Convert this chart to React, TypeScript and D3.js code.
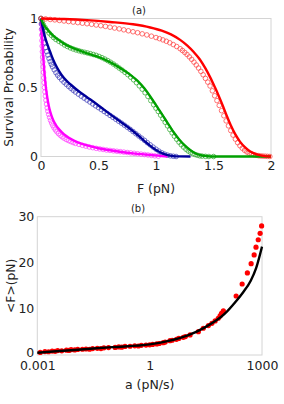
import { useEffect, useRef } from "react";
import * as d3 from "d3";

type Pt = [number, number];

// ---- panel (a): survival probability vs F ----
const redFit: Pt[] = [
  [0, 1], [0.2, 0.996], [0.4, 0.988], [0.6, 0.975], [0.8, 0.958], [0.95, 0.935],
  [1.05, 0.912], [1.13, 0.885], [1.21, 0.845], [1.27, 0.805], [1.33, 0.755],
  [1.38, 0.705], [1.43, 0.638], [1.47, 0.575], [1.51, 0.505], [1.54, 0.45],
  [1.58, 0.37], [1.615, 0.295], [1.65, 0.226], [1.69, 0.16], [1.73, 0.108],
  [1.775, 0.066], [1.82, 0.036], [1.875, 0.016], [1.93, 0.005], [2.0, 0],
];
const redData: Pt[] = [
  [0, 1], [0.04, 0.997], [0.08, 0.993], [0.12, 0.99], [0.16, 0.986], [0.2, 0.982],
  [0.24, 0.978], [0.28, 0.974], [0.32, 0.97], [0.36, 0.966], [0.4, 0.962],
  [0.44, 0.958], [0.48, 0.953], [0.52, 0.948], [0.56, 0.943], [0.6, 0.937],
  [0.64, 0.931], [0.68, 0.925], [0.72, 0.918], [0.76, 0.911], [0.8, 0.904],
  [0.84, 0.897], [0.88, 0.889], [0.92, 0.881], [0.96, 0.872], [1.0, 0.862],
  [1.03, 0.854], [1.06, 0.845], [1.09, 0.835], [1.12, 0.824], [1.15, 0.811],
  [1.18, 0.797], [1.21, 0.781], [1.23, 0.768], [1.25, 0.754], [1.27, 0.739],
  [1.29, 0.722], [1.31, 0.704], [1.33, 0.684], [1.35, 0.663], [1.37, 0.641],
  [1.39, 0.617], [1.41, 0.592], [1.43, 0.566], [1.45, 0.539], [1.47, 0.511],
  [1.49, 0.476], [1.51, 0.44], [1.53, 0.405], [1.55, 0.37], [1.57, 0.332],
  [1.59, 0.295], [1.61, 0.258], [1.63, 0.222], [1.65, 0.188], [1.67, 0.155],
  [1.69, 0.126], [1.71, 0.1], [1.73, 0.078], [1.75, 0.06], [1.77, 0.045],
  [1.79, 0.033], [1.81, 0.024], [1.83, 0.018], [1.85, 0.013], [1.87, 0.009],
  [1.89, 0.006], [1.91, 0.004], [1.93, 0.003], [1.95, 0.002], [1.97, 0.001], [1.99, 0],
];

const greenFit: Pt[] = [
  [0, 1], [0.02, 0.96], [0.05, 0.925], [0.1, 0.88], [0.15, 0.847], [0.2, 0.818],
  [0.26, 0.792], [0.32, 0.772], [0.4, 0.748], [0.48, 0.727], [0.55, 0.704],
  [0.62, 0.675], [0.7, 0.635], [0.78, 0.59], [0.84, 0.548], [0.9, 0.492],
  [0.95, 0.435], [1.0, 0.372], [1.04, 0.322], [1.08, 0.27], [1.12, 0.218],
  [1.16, 0.168], [1.2, 0.125], [1.25, 0.08], [1.3, 0.045], [1.35, 0.02],
  [1.4, 0.007], [1.45, 0.002], [1.5, 0], [2.0, 0],
];
const greenData: Pt[] = [
  [0, 1], [0.01, 0.975], [0.02, 0.955], [0.035, 0.935], [0.05, 0.915], [0.07, 0.895],
  [0.09, 0.878], [0.11, 0.862], [0.13, 0.848], [0.155, 0.835], [0.18, 0.822],
  [0.205, 0.808], [0.23, 0.797], [0.255, 0.787], [0.28, 0.779], [0.305, 0.772],
  [0.33, 0.766], [0.355, 0.76], [0.38, 0.755], [0.405, 0.75], [0.43, 0.745],
  [0.455, 0.739], [0.48, 0.733], [0.505, 0.725], [0.53, 0.716], [0.555, 0.706],
  [0.58, 0.695], [0.605, 0.683], [0.63, 0.67], [0.655, 0.656], [0.68, 0.641],
  [0.705, 0.626], [0.73, 0.61], [0.755, 0.593], [0.78, 0.575], [0.805, 0.556],
  [0.83, 0.535], [0.855, 0.512], [0.88, 0.488], [0.905, 0.462], [0.93, 0.435],
  [0.955, 0.405], [0.98, 0.375], [1.0, 0.35], [1.02, 0.326], [1.04, 0.3],
  [1.06, 0.274], [1.08, 0.248], [1.1, 0.222], [1.12, 0.196], [1.14, 0.171],
  [1.16, 0.147], [1.18, 0.125], [1.2, 0.104], [1.22, 0.085], [1.24, 0.068],
  [1.26, 0.053], [1.28, 0.04], [1.3, 0.03], [1.32, 0.021], [1.34, 0.014],
  [1.36, 0.009], [1.38, 0.005], [1.4, 0.003], [1.43, 0.001], [1.46, 0], [1.5, 0],
];

const blueFit: Pt[] = [
  [0, 1], [0.01, 0.955], [0.02, 0.915], [0.035, 0.865], [0.05, 0.825], [0.07, 0.78],
  [0.09, 0.735], [0.12, 0.675], [0.16, 0.615], [0.2, 0.568], [0.26, 0.52],
  [0.32, 0.478], [0.4, 0.43], [0.48, 0.382], [0.55, 0.338], [0.6, 0.307],
  [0.7, 0.247], [0.78, 0.197], [0.84, 0.156], [0.9, 0.112], [0.95, 0.077],
  [1.0, 0.047], [1.05, 0.024], [1.1, 0.01], [1.15, 0.003], [1.2, 0.001], [1.3, 0],
];
const blueData: Pt[] = [
  [0, 1], [0.005, 0.96], [0.01, 0.925], [0.015, 0.89], [0.02, 0.86], [0.03, 0.825],
  [0.04, 0.79], [0.05, 0.76], [0.06, 0.735], [0.07, 0.71], [0.08, 0.688],
  [0.09, 0.668], [0.1, 0.65], [0.115, 0.628], [0.13, 0.607], [0.145, 0.589],
  [0.16, 0.573], [0.18, 0.555], [0.2, 0.538], [0.22, 0.523], [0.24, 0.508],
  [0.26, 0.494], [0.28, 0.48], [0.3, 0.467], [0.325, 0.452], [0.35, 0.437],
  [0.375, 0.423], [0.4, 0.409], [0.425, 0.395], [0.45, 0.381], [0.475, 0.367],
  [0.5, 0.354], [0.525, 0.34], [0.55, 0.326], [0.575, 0.312], [0.6, 0.298],
  [0.625, 0.284], [0.65, 0.27], [0.675, 0.256], [0.7, 0.242], [0.725, 0.227],
  [0.75, 0.212], [0.775, 0.197], [0.8, 0.181], [0.825, 0.165], [0.85, 0.149],
  [0.875, 0.133], [0.9, 0.117], [0.925, 0.1], [0.95, 0.084], [0.975, 0.068],
  [1.0, 0.053], [1.025, 0.039], [1.05, 0.027], [1.075, 0.017], [1.1, 0.01],
  [1.125, 0.005], [1.15, 0.002], [1.175, 0],
];

const magentaFit: Pt[] = [
  [0, 1], [0.004, 0.94], [0.008, 0.875], [0.012, 0.815], [0.017, 0.75], [0.023, 0.68],
  [0.03, 0.605], [0.038, 0.535], [0.046, 0.477], [0.056, 0.42], [0.067, 0.37],
  [0.08, 0.325], [0.095, 0.287], [0.11, 0.257], [0.13, 0.228], [0.15, 0.205],
  [0.18, 0.177], [0.22, 0.148], [0.27, 0.122], [0.32, 0.103], [0.4, 0.08],
  [0.5, 0.06], [0.6, 0.045], [0.7, 0.033], [0.8, 0.023], [0.9, 0.015],
  [1.0, 0.008], [1.05, 0.004], [1.1, 0],
];
const magentaData: Pt[] = [
  [0, 1], [0.002, 0.96], [0.004, 0.92], [0.006, 0.88], [0.008, 0.84], [0.01, 0.8],
  [0.012, 0.76], [0.014, 0.72], [0.016, 0.685], [0.018, 0.65], [0.021, 0.61],
  [0.024, 0.57], [0.027, 0.535], [0.03, 0.5], [0.034, 0.468], [0.038, 0.438],
  [0.043, 0.408], [0.048, 0.38], [0.054, 0.352], [0.06, 0.328], [0.067, 0.305],
  [0.075, 0.283], [0.083, 0.262], [0.092, 0.243], [0.102, 0.225], [0.113, 0.208],
  [0.125, 0.193], [0.138, 0.179], [0.152, 0.166], [0.167, 0.154], [0.183, 0.143],
  [0.2, 0.133], [0.22, 0.123], [0.24, 0.115], [0.26, 0.108], [0.28, 0.101],
  [0.3, 0.095], [0.33, 0.088], [0.36, 0.081], [0.39, 0.075], [0.42, 0.069],
  [0.45, 0.064], [0.48, 0.059], [0.51, 0.055], [0.54, 0.051], [0.57, 0.047],
  [0.6, 0.044], [0.63, 0.041], [0.66, 0.038], [0.69, 0.035], [0.72, 0.032],
  [0.75, 0.029], [0.78, 0.026], [0.81, 0.023], [0.84, 0.02], [0.87, 0.017],
  [0.9, 0.014], [0.93, 0.011], [0.96, 0.008], [0.99, 0.005], [1.02, 0.002],
];

const ticksF = [0, 0.5, 1, 1.5, 2];
const ticksS = [0, 0.5, 1];

// ---- panel (b): <F> vs loading rate a ----
const fitA = [0.001, 0.01, 0.1, 1, 3, 10, 30, 100, 200, 300, 500, 700, 1000];
const fitF = [0.5, 1.1, 1.7, 2.3, 3.0, 4.2, 6.0, 8.9, 11.6, 13.4, 16.1, 18.9, 23.5];

const dotA = [
  0.0012, 0.0016, 0.002, 0.0025, 0.003, 0.0035, 0.0045, 0.006, 0.007, 0.008,
  0.01, 0.012, 0.016, 0.02, 0.025, 0.03, 0.04, 0.05, 0.06, 0.08,
  0.12, 0.15, 0.18, 0.22, 0.3, 0.4, 0.5, 0.6, 0.8, 1.0,
  1.2, 1.55, 1.8, 2.3, 2.6, 3.5, 4, 5.2, 6, 7.9,
  9, 12, 20, 27, 37, 46, 56, 68, 76, 83,
  93, 204, 295, 407, 513, 617, 692, 794, 891, 977,
];
const dotF = [
  0.55, 0.75, 0.7, 0.85, 0.8, 0.95, 0.9, 1.05, 1.0, 1.15,
  1.1, 1.2, 1.25, 1.3, 1.25, 1.4, 1.45, 1.4, 1.55, 1.6,
  1.65, 1.75, 1.7, 1.85, 1.9, 2.0, 1.95, 2.1, 2.15, 2.2,
  2.3, 2.4, 2.5, 2.68, 2.8, 3.1, 3.2, 3.4, 3.6, 3.84,
  4.0, 4.35, 5.07, 5.8, 6.38, 6.88, 7.39, 7.97, 8.48, 9.06,
  9.6, 12.8, 15.4, 17.8, 19.8, 21.7, 23.4, 25.0, 26.4, 28.0,
];
const ticksA = [0.001, 1, 1000];
const ticksMeanF = [0, 10, 20, 30];

const FONT = "'DejaVu Sans', Verdana, sans-serif";

export default function App() {
  const svgRef = useRef<SVGSVGElement | null>(null);

  useEffect(() => {
    if (!svgRef.current) return;
    const svg = d3.select(svgRef.current);
    svg.selectAll("*").remove();

    // ---------- (a) ----------
    const xA = d3.scaleLinear().domain([0, 2]).range([41, 271]);
    const yA = d3.scaleLinear().domain([0, 1]).range([156.5, 18.5]);

    const gA = svg.append("g");
    gA.append("rect")
      .attr("x", xA(0)).attr("y", yA(1))
      .attr("width", xA(2) - xA(0)).attr("height", yA(0) - yA(1))
      .attr("fill", "none").attr("stroke", "#d4d4d4").attr("stroke-width", 1);

    const series = [
      { data: magentaData, fit: magentaFit, line: "#ff00ff", mark: "#ff44ff" },
      { data: blueData, fit: blueFit, line: "#000099", mark: "#4444bb" },
      { data: greenData, fit: greenFit, line: "#00a000", mark: "#33aa33" },
      { data: redData, fit: redFit, line: "#ff0000", mark: "#ff4444" },
    ];

    // hollow markers (measured data)
    series.forEach((s) => {
      gA.append("g")
        .selectAll("circle")
        .data(s.data)
        .enter()
        .append("circle")
        .attr("cx", (d) => xA(d[0]))
        .attr("cy", (d) => yA(d[1]))
        .attr("r", 2.3)
        .attr("fill", "none")
        .attr("stroke", s.mark)
        .attr("stroke-opacity", 0.75)
        .attr("stroke-width", 1);
    });

    const lineA = d3.line<Pt>()
      .x((d) => xA(d[0]))
      .y((d) => yA(d[1]))
      .curve(d3.curveMonotoneX);

    series.forEach((s) => {
      gA.append("path")
        .datum(s.fit)
        .attr("fill", "none")
        .attr("stroke", s.line)
        .attr("stroke-width", 2.4)
        .attr("d", lineA);
    });

    const axA = gA.append("g").attr("transform", `translate(0,${yA(0)})`)
      .call(d3.axisBottom(xA).tickValues(ticksF).tickSize(0).tickPadding(5).tickFormat((d) => String(d)));
    const ayA = gA.append("g").attr("transform", `translate(${xA(0)},0)`)
      .call(d3.axisLeft(yA).tickValues(ticksS).tickSize(0).tickPadding(3).tickFormat((d) => String(d)));
    [axA, ayA].forEach((a) => {
      a.select(".domain").remove();
      a.selectAll("text").attr("font-size", 12.5).attr("font-family", FONT).attr("fill", "#222");
    });

    gA.append("text").text("(a)")
      .attr("x", 139).attr("y", 13.5).attr("text-anchor", "middle")
      .attr("font-size", 10).attr("font-family", FONT).attr("fill", "#222");
    gA.append("text").text("F (pN)")
      .attr("x", xA(1)).attr("y", 192.5).attr("text-anchor", "middle")
      .attr("font-size", 12.5).attr("font-family", FONT).attr("fill", "#222");
    gA.append("text").text("Survival Probability")
      .attr("transform", `translate(13,${(yA(0) + yA(1)) / 2}) rotate(-90)`)
      .attr("text-anchor", "middle")
      .attr("font-size", 12.3).attr("font-family", FONT).attr("fill", "#222");

    // ---------- (b) ----------
    const xB = d3.scaleLog().domain([0.001, 1000]).range([37.3, 262]);
    const yB = d3.scaleLinear().domain([0, 30]).range([355, 216.7]);

    const gB = svg.append("g");
    gB.append("rect")
      .attr("x", xB(0.001)).attr("y", yB(30))
      .attr("width", xB(1000) - xB(0.001)).attr("height", yB(0) - yB(30))
      .attr("fill", "none").attr("stroke", "#d4d4d4").attr("stroke-width", 1);

    gB.append("g")
      .selectAll("circle")
      .data(dotA.map((a, i) => [a, dotF[i]] as Pt))
      .enter()
      .append("circle")
      .attr("cx", (d) => xB(d[0]))
      .attr("cy", (d) => yB(d[1]))
      .attr("r", 2.6)
      .attr("fill", "#ff0000");

    const lineB = d3.line<Pt>()
      .x((d) => xB(d[0]))
      .y((d) => yB(d[1]))
      .curve(d3.curveMonotoneX);
    gB.append("path")
      .datum(fitA.map((a, i) => [a, fitF[i]] as Pt))
      .attr("fill", "none")
      .attr("stroke", "#000")
      .attr("stroke-width", 2.4)
      .attr("d", lineB);

    const axB = gB.append("g").attr("transform", `translate(0,${yB(0)})`)
      .call(d3.axisBottom(xB).tickValues(ticksA).tickSize(0).tickPadding(6).tickFormat((d) => String(d)));
    const ayB = gB.append("g").attr("transform", `translate(${xB(0.001)},0)`)
      .call(d3.axisLeft(yB).tickValues(ticksMeanF).tickSize(0).tickPadding(3).tickFormat((d) => String(d)));
    [axB, ayB].forEach((a) => {
      a.select(".domain").remove();
      a.selectAll("text").attr("font-size", 12.5).attr("font-family", FONT).attr("fill", "#222");
    });
    // keep the "0" on the y axis clear of the "0.001" below it
    ayB.selectAll("text").filter((d) => d === 0).attr("dy", "0.1em");

    gB.append("text").text("(b)")
      .attr("x", 138).attr("y", 212).attr("text-anchor", "middle")
      .attr("font-size", 10).attr("font-family", FONT).attr("fill", "#222");
    gB.append("text").text("a (pN/s)")
      .attr("x", xB(1)).attr("y", 389).attr("text-anchor", "middle")
      .attr("font-size", 12.5).attr("font-family", FONT).attr("fill", "#222");
    gB.append("text").text("<F>(pN)")
      .attr("transform", `translate(15,${(yB(0) + yB(30)) / 2}) rotate(-90)`)
      .attr("text-anchor", "middle")
      .attr("font-size", 12.3).attr("font-family", FONT).attr("fill", "#222");
  }, []);

  return (
    <svg
      ref={svgRef}
      width={284}
      height={404}
      style={{ position: "absolute", left: 0, top: 0, background: "#fff" }}
    />
  );
}
